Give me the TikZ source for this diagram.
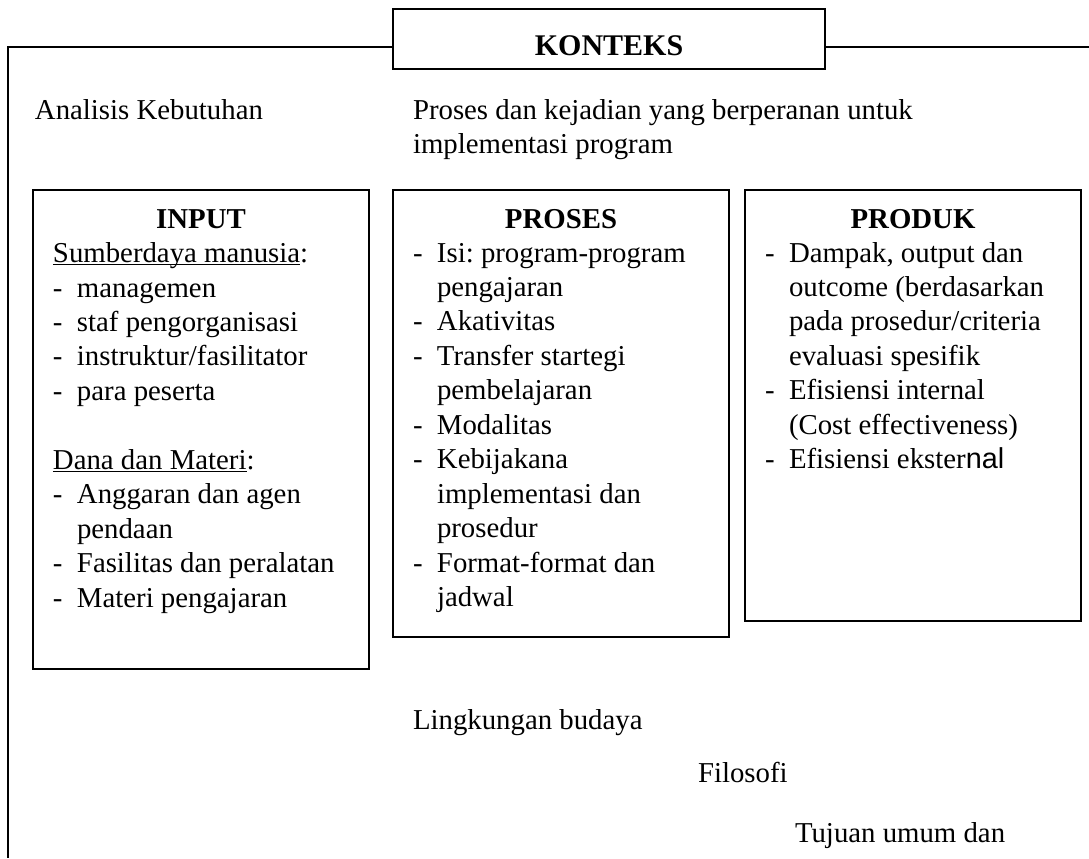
\documentclass[tikz,border=0pt]{standalone}
\usepackage{fontspec}
\setmainfont{Liberation Serif}
\newfontfamily\arialf{Liberation Sans}
\newcommand{\itm}[1]{\makebox[10pt][l]{-}#1}
\newcommand{\cnt}[1]{\hspace*{10pt}#1}
\newcommand{\myul}[1]{\setbox0\hbox{#1}\rlap{\rule[-1.3pt]{\wd0}{0.6pt}}\box0}
\frenchspacing
\begin{document}
\begin{tikzpicture}[x=0.41667pt,y=-0.41667pt,
  font=\fontsize{12}{14.3}\selectfont,
  every node/.style={inner sep=0pt,outer sep=0pt},
  ln/.style={anchor=base west},
  ttl/.style={anchor=base,font=\fontsize{12}{14.3}\selectfont\bfseries},
  frm/.style={draw,line width=0.75pt},
  colbox/.style={draw,line width=0.8pt}]
\useasboundingbox (0,0) rectangle (1089,858);

% KONTEKS header and outer frame
\node[frm,minimum width=432*0.41667pt,minimum height=60*0.41667pt] (konteks) at (609,39) {};
\node[ttl,font=\fontsize{12.5}{14.3}\selectfont\bfseries] (kontekstxt) at (609,55) {KONTEKS};
\coordinate (tl) at (8,47);
\coordinate (bl) at (8,858);
\coordinate (tr) at (1089,47);
\draw[line width=0.75pt] (konteks.west |- tl) -- (tl) -- (bl);
\draw[line width=0.75pt] (konteks.east |- tr) -- (tr);

\node[ln] (analisis) at (35,119) {Analisis Kebutuhan};
\node[ln] (proses1) at (413,119) {Proses dan kejadian yang berperanan untuk};
\node[ln] (proses2) at (413,153) {implementasi program};

% column boxes
\draw[colbox] (33,190) rectangle (369,669);
\draw[colbox] (393,190) rectangle (729,637);
\draw[colbox] (745,190) rectangle (1081,621);

\node[ttl] (tinput) at (201,228) {INPUT};
\node[ttl] (tproses) at (561,228) {PROSES};
\node[ttl] (tproduk) at (913,228) {PRODUK};

% INPUT lines
\node[ln] (in0) at (53,262) {\myul{Sumberdaya manusia}:};
\node[ln] (in1) at (53,297) {\itm{managemen}};
\node[ln] (in2) at (53,331) {\itm{staf pengorganisasi}};
\node[ln] (in3) at (53,365) {\itm{instruktur/fasilitator}};
\node[ln] (in4) at (53,400) {\itm{para peserta}};
\node[ln] (in5) at (53,469) {\myul{Dana dan Materi}:};
\node[ln] (in6) at (53,503) {\itm{Anggaran dan agen}};
\node[ln] (in7) at (53,538) {\cnt{pendaan}};
\node[ln] (in8) at (53,572) {\itm{Fasilitas dan peralatan}};
\node[ln] (in9) at (53,607) {\itm{Materi pengajaran}};

% PROSES lines
\foreach [count=\k from 0] \t in {
  {\itm{Isi: program-program}},
  {\cnt{pengajaran}},
  {\itm{Akativitas}},
  {\itm{Transfer startegi}},
  {\cnt{pembelajaran}},
  {\itm{Modalitas}},
  {\itm{Kebijakana}},
  {\cnt{implementasi dan}},
  {\cnt{prosedur}},
  {\itm{Format-format dan}},
  {\cnt{jadwal}}}
  \node[ln] (pr\k) at (413,262+34.45*\k) {\t};

% PRODUK lines
\foreach [count=\k from 0] \t in {
  {\itm{Dampak, output dan}},
  {\cnt{outcome (berdasarkan}},
  {\cnt{pada prosedur/criteria}},
  {\cnt{evaluasi spesifik}},
  {\itm{Efisiensi internal}},
  {\cnt{(Cost effectiveness)}},
  {\itm{Efisiensi ekster{\arialf nal}}}}
  \node[ln] (pd\k) at (765,262+34.45*\k) {\t};

% bottom texts
\node[ln] (lingkungan) at (413,729) {Lingkungan budaya};
\node[ln] (filosofi) at (698,782) {Filosofi};
\node[ln] (tujuan) at (795,842) {Tujuan umum dan};
\end{tikzpicture}
\end{document}
